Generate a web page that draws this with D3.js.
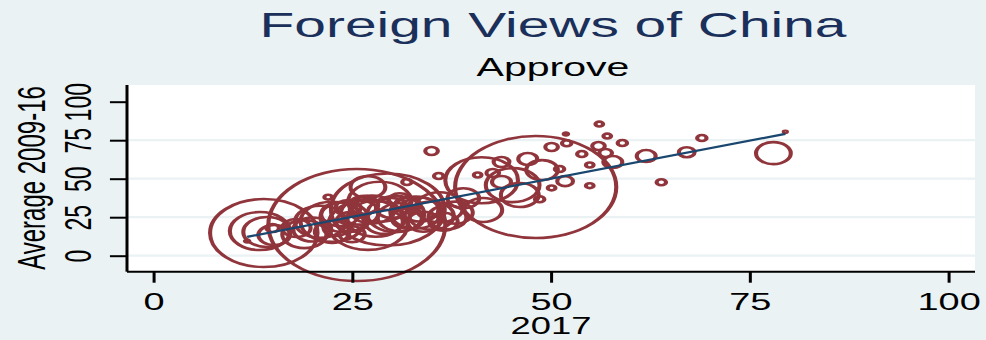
<!DOCTYPE html>
<html>
<head>
<meta charset="utf-8">
<script src="https://cdn.jsdelivr.net/npm/d3@7"></script>
<style>
  html, body { margin: 0; padding: 0; background: #eaf2f3; }
  svg { display: block; }
  text { font-family: "Liberation Sans", Arial, Helvetica, sans-serif; }
</style>
</head>
<body>
<div id="chart"></div>
<script>
// Share approving of China in 2017 (x) vs. average approval 2009-16 (y)
const approve2017 = [56.1, 51.9, 57.1, 50.1, 52.0, 56.0, 59.0, 56.9, 53.9, 57.8,
  54.9, 47.1, 43.8, 48.9, 51.1, 42.7, 40.8, 35.9, 43.8, 51.8,
  50.1, 54.9, 48.6, 35.0, 62.0, 67.1, 69.0, 78.0, 63.9, 79.5,
  11.8, 25.6, 48.1, 13.9, 13.4, 14.3, 15.2, 27.0, 22.0, 31.9,
  15.0, 41.3, 45.2, 46.1, 39.0, 41.5, 36.0, 29.5, 22.5, 24.0,
  26.0, 28.0, 31.0, 33.0, 30.0, 20.0, 23.0, 34.0, 37.0, 27.0,
  19.0, 32.0, 21.0, 23.5, 25.0, 27.5, 29.0, 30.5, 32.0, 33.5,
  35.0, 36.5, 38.0, 24.5, 26.5, 28.5, 31.0, 22.5, 25.0, 18.0];
const approveAvg = [85.5, 79.0, 77.7, 70.6, 73.0, 71.2, 73.2, 66.7, 66.0, 60.8,
  58.9, 62.8, 60.8, 55.6, 56.3, 53.7, 52.4, 51.8, 47.9, 48.4,
  44.0, 45.5, 36.7, 68.0, 64.7, 67.2, 76.4, 66.6, 47.7, 80.5,
  9.5, 19.9, 44.6, 14.7, 16.0, 15.4, 13.4, 44.5, 38.0, 47.9,
  18.0, 49.0, 45.8, 39.4, 37.3, 29.7, 31.5, 30.0, 22.0, 25.0,
  28.0, 24.0, 25.0, 28.0, 31.0, 17.0, 18.0, 22.0, 25.0, 20.0,
  14.0, 33.0, 22.0, 27.0, 22.0, 30.0, 22.0, 27.0, 24.0, 30.0,
  26.0, 22.0, 28.0, 31.0, 33.0, 35.0, 36.0, 15.5, 14.0, 18.0];
// Marker weights (marker area is proportional to weight)
const weight = [6, 2, 6, 16, 9, 16, 9, 16, 9, 36,
  6, 36, 25, 100, 9, 16, 6, 9, 36, 25,
  6, 6, 9, 16, 36, 25, 9, 121, 9, 1,
  2, 3136, 2601, 1156, 361, 225, 100, 121, 6, 9,
  16, 529, 289, 144, 100, 144, 225, 1296, 400, 225,
  144, 324, 196, 256, 100, 144, 64, 100, 144, 625,
  196, 64, 256, 144, 100, 196, 144, 324, 100, 144,
  196, 81, 121, 64, 81, 400, 49, 121, 64, 81];
// Linear fit endpoints
const fitX = [11.8, 79.5];
const fitY = [12.2, 79.1];

const xTicks = [0, 25, 50, 75, 100];
const yTicks = [0, 25, 50, 75, 100];
const gridTicks = [0, 25, 50, 75];

const W = 986, H = 340;
const stretch = 1.58;           // drawing is widened horizontally
const LW = W / stretch;

const svg = d3.select("#chart").append("svg")
  .attr("width", W).attr("height", H)
  .attr("viewBox", `0 0 ${LW} ${H}`)
  .attr("preserveAspectRatio", "none");

svg.append("rect").attr("width", LW).attr("height", H).attr("fill", "#eaf2f3");

const plotL = 127 / stretch, plotR = 975 / stretch, plotT = 85, plotB = 271.7;
svg.append("rect").attr("x", plotL).attr("y", plotT)
  .attr("width", plotR - plotL).attr("height", plotB - plotT).attr("fill", "#ffffff");

const x = d3.scaleLinear().domain([0, 100]).range([153.3 / stretch, 948.3 / stretch]);
const y = d3.scaleLinear().domain([0, 100]).range([255.7, 101.7]);
const r = d3.scaleSqrt().domain([0, 3136]).range([0, 56]);

// grid lines
svg.append("g").selectAll("line").data(gridTicks).join("line")
  .attr("x1", plotL).attr("x2", plotR)
  .attr("y1", d => y(d)).attr("y2", d => y(d))
  .attr("stroke", "#eaf2f3").attr("stroke-width", 2.2);

// markers
const pts = approve2017.map((v, i) => ({ x: v, y: approveAvg[i], w: weight[i] }));
svg.append("g").selectAll("circle").data(pts).join("circle")
  .attr("cx", d => x(d.x)).attr("cy", d => y(d.y))
  .attr("r", d => Math.max(r(d.w), 0.8))
  .attr("fill", "none").attr("stroke", "#90353b").attr("stroke-width", 2.6);

// fitted line
svg.append("path")
  .datum(fitX.map((v, i) => [v, fitY[i]]))
  .attr("d", d3.line().x(d => x(d[0])).y(d => y(d[1])))
  .attr("fill", "none").attr("stroke", "#1a476f").attr("stroke-width", 2.2);

// axes
const xAxis = d3.axisBottom(x).tickValues(xTicks).tickSize(11).tickPadding(5)
  .tickFormat(d3.format("d"));
const gx = svg.append("g").attr("transform", `translate(0,${plotB})`).call(xAxis);
gx.select(".domain").attr("d", `M${plotL},0H${plotR}`).attr("stroke", "#000").attr("stroke-width", 2);
gx.selectAll(".tick line").attr("stroke", "#000").attr("stroke-width", 1.9);
gx.selectAll(".tick text").attr("fill", "#000").attr("font-size", 24)
  .attr("dy", null).attr("y", 38);

const yAxis = d3.axisLeft(y).tickValues(yTicks).tickSize(10.8).tickFormat(d3.format("d"));
const gy = svg.append("g").attr("transform", `translate(${plotL},0)`).call(yAxis);
gy.select(".domain").attr("d", `M0,${plotT}V${plotB}`).attr("stroke", "#000").attr("stroke-width", 1.9);
gy.selectAll(".tick line").attr("stroke", "#000").attr("stroke-width", 2);
gy.selectAll(".tick text").attr("fill", "#000").attr("font-size", 23)
  .attr("x", null).attr("dy", null)
  .attr("text-anchor", "middle")
  .attr("transform", `translate(${91 / stretch - plotL},0) rotate(-90)`);

// titles
const cx = 553 / stretch;
svg.append("text").attr("x", cx).attr("y", 37.5).attr("text-anchor", "middle")
  .attr("font-size", 36).attr("fill", "#1a2f5a").text("Foreign Views of China");
svg.append("text").attr("x", cx).attr("y", 76).attr("text-anchor", "middle")
  .attr("font-size", 26).attr("fill", "#000").text("Approve");
svg.append("text").attr("x", 551 / stretch).attr("y", 334).attr("text-anchor", "middle")
  .attr("font-size", 23).attr("fill", "#000").text("2017");
svg.append("text")
  .attr("transform", `translate(${45 / stretch},${178}) rotate(-90)`)
  .attr("text-anchor", "middle").attr("font-size", 24).attr("fill", "#000")
  .text("Average 2009-16");
</script>
</body>
</html>
